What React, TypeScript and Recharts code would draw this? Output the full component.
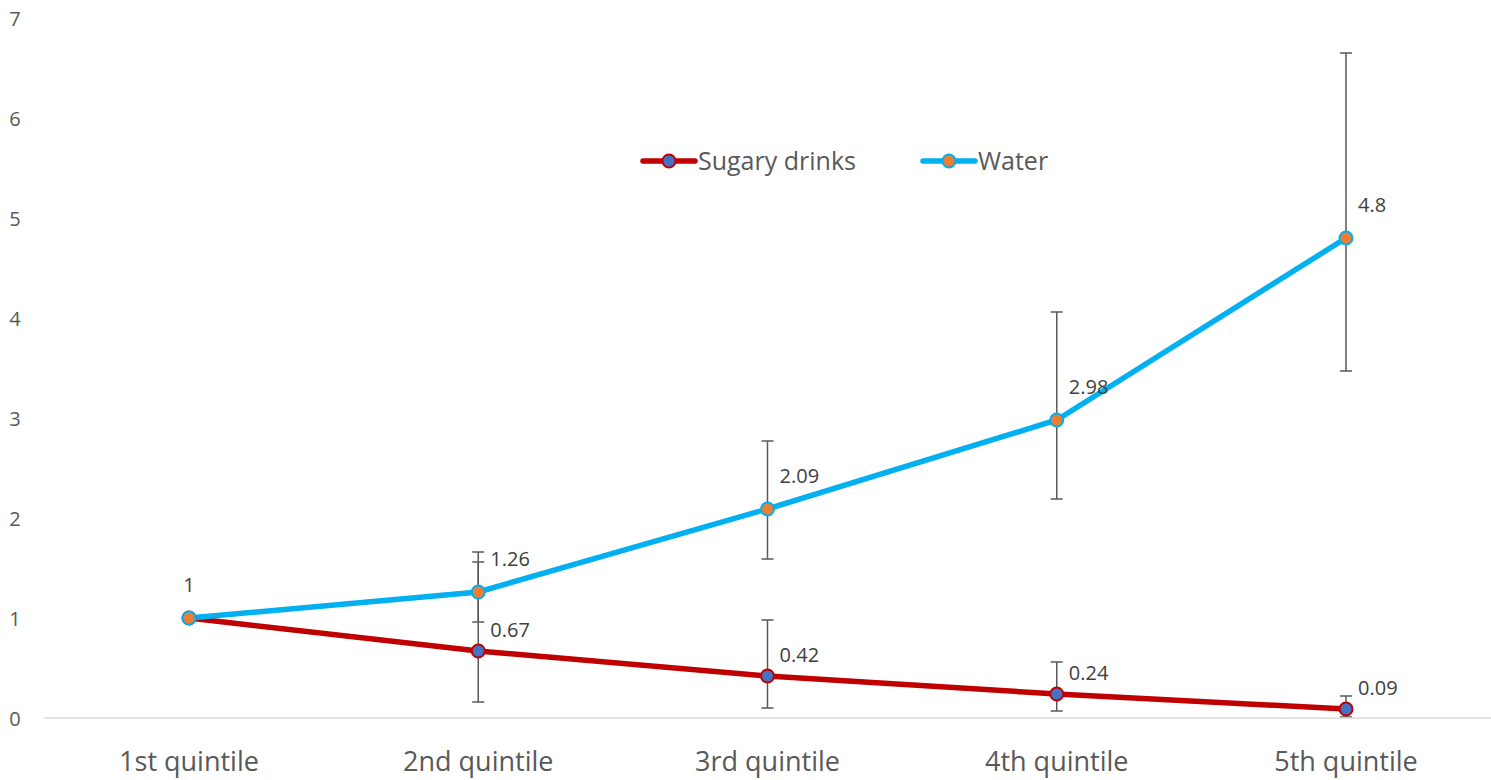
import { ErrorBar, LabelList, Line, LineChart, XAxis, YAxis } from 'recharts';

const categories = ['1st quintile', '2nd quintile', '3rd quintile', '4th quintile', '5th quintile'];
const sugaryValues = [1, 0.67, 0.42, 0.24, 0.09];
const sugaryLow = [null, 0.16, 0.1, 0.07, 0.01];
const sugaryHigh = [null, 1.56, 0.98, 0.56, 0.22];
const waterValues = [1, 1.26, 2.09, 2.98, 4.8];
const waterLow = [null, 0.96, 1.59, 2.19, 3.47];
const waterHigh = [null, 1.66, 2.77, 4.06, 6.65];
const yTicks = [0, 1, 2, 3, 4, 5, 6, 7];

const FONT = '"Open Sans", "Noto Sans", sans-serif';
const SUGARY = '#C00000';
const WATER = '#00B0F0';

const errOf = (v: number, lo: number | null, hi: number | null) =>
  lo == null || hi == null ? null : [+(v - lo).toFixed(2), +(hi - v).toFixed(2)];

const data = categories.map((name, i) => ({
  name,
  sugary: sugaryValues[i],
  sugaryErr: errOf(sugaryValues[i], sugaryLow[i], sugaryHigh[i]),
  water: waterValues[i],
  waterErr: errOf(waterValues[i], waterLow[i], waterHigh[i]),
}));

const makeLabel = (dx: number, dy: number, skipFirst: boolean) => (props: any) => {
  const { x, y, value, index } = props;
  if (index === 0 && skipFirst) return null;
  const first = index === 0;
  return (
    <text
      x={first ? x : x + dx}
      y={y + dy}
      textAnchor={first ? 'middle' : 'start'}
      dominantBaseline="central"
      fill="#404040"
      fontSize={20}
      fontFamily={FONT}
    >
      {value}
    </text>
  );
};

const YTick = ({ y, payload }: any) => (
  <text x={15} y={y} textAnchor="middle" dominantBaseline="central" fill="#595959" fontSize={20} fontFamily={FONT}>
    {payload.value}
  </text>
);

const XTick = ({ x, y, payload }: any) => (
  <text x={x} y={y + 34} textAnchor="middle" dominantBaseline="central" fill="#595959" fontSize={27} fontFamily={FONT}>
    {payload.value}
  </text>
);

const LegendItem = ({ color, dotFill, label }: { color: string; dotFill: string; label: string }) => (
  <div style={{ display: 'flex', alignItems: 'center', marginRight: 64 }}>
    <svg width={58} height={20}>
      <line x1={3} y1={10} x2={55} y2={10} stroke={color} strokeWidth={5.5} strokeLinecap="round" />
      <circle cx={29} cy={10} r={6.5} fill={dotFill} stroke={color} strokeWidth={2} />
    </svg>
    <span style={{ fontSize: 25, color: '#595959', fontFamily: FONT, lineHeight: 1 }}>{label}</span>
  </div>
);

export default function App() {
  return (
    <div style={{ position: 'absolute', left: 0, top: 0, width: 1491, height: 780, background: '#fff' }}>
      <LineChart width={1491} height={780} data={data} margin={{ top: 18, right: 0, bottom: 0, left: 0 }}>
        <XAxis
          dataKey="name"
          axisLine={{ stroke: '#D9D9D9', strokeWidth: 1.5 }}
          tickLine={false}
          tick={<XTick />}
          height={62}
          padding={{ left: 145, right: 145 }}
        />
        <YAxis
          domain={[0, 7]}
          ticks={yTicks}
          axisLine={false}
          tickLine={false}
          tick={<YTick />}
          width={44}
          interval={0}
        />
        <Line
          dataKey="sugary"
          name="Sugary drinks"
          stroke={SUGARY}
          strokeWidth={5.5}
          dot={{ r: 6.5, fill: '#4472C4', stroke: SUGARY, strokeWidth: 2 }}
          activeDot={false}
          isAnimationActive={false}
        >
          <ErrorBar dataKey="sugaryErr" direction="y" width={6} stroke="#595959" strokeWidth={1.5} isAnimationActive={false} />
          <LabelList dataKey="sugary" content={makeLabel(12, -22, true)} />
        </Line>
        <Line
          dataKey="water"
          name="Water"
          stroke={WATER}
          strokeWidth={5.5}
          dot={{ r: 6.5, fill: '#ED7D31', stroke: WATER, strokeWidth: 2 }}
          activeDot={false}
          isAnimationActive={false}
        >
          <ErrorBar dataKey="waterErr" direction="y" width={6} stroke="#595959" strokeWidth={1.5} isAnimationActive={false} />
          <LabelList dataKey="water" content={makeLabel(12, -34, false)} />
        </Line>
      </LineChart>
      <div style={{ position: 'absolute', left: 640, top: 148, display: 'flex', alignItems: 'center' }}>
        <LegendItem color={SUGARY} dotFill="#4472C4" label="Sugary drinks" />
        <LegendItem color={WATER} dotFill="#ED7D31" label="Water" />
      </div>
    </div>
  );
}
